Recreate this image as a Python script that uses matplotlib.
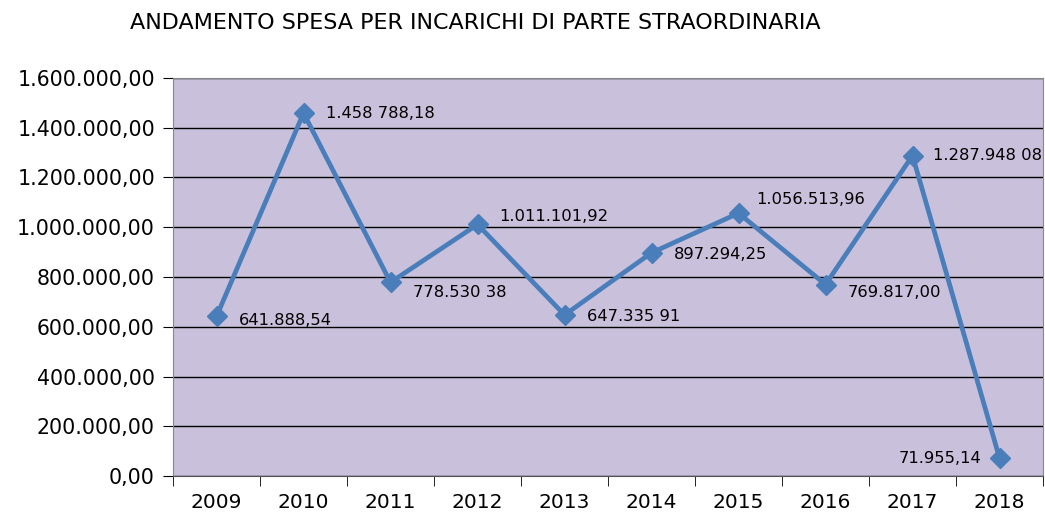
import numpy as np
import matplotlib.pyplot as plt
from matplotlib.ticker import FuncFormatter, FixedLocator

plt.rcParams['font.family'] = ['DejaVu Sans']

anni = ['2009', '2010', '2011', '2012', '2013', '2014', '2015', '2016', '2017', '2018']
spesa = [641888.54, 1458788.18, 778530.38, 1011101.92, 647335.91,
         897294.25, 1056513.96, 769817.00, 1287948.08, 71955.14]
etichette = ['641.888,54', '1.458 788,18', '778.530 38', '1.011.101,92', '647.335 91',
             '897.294,25', '1.056.513,96', '769.817,00', '1.287.948 08', '71.955,14']
# offset (px) of each label from its marker
offsets = [(22, -4), (22, 0), (22, -10), (22, 8), (22, -2),
           (22, -2), (18, 14), (22, -8), (20, 0), (-18, 0)]


def it_fmt(v, pos):
    if v == 0:
        return "0,00"
    s = f"{v:,.2f}"
    return s.replace(",", "X").replace(".", ",").replace("X", ".")


fig = plt.figure(figsize=(10.45, 5.13), dpi=100)
ax = fig.add_axes([0.1656, 0.0721, 0.8325, 0.7759])
ax.set_facecolor('#C9C1DB')

x = np.arange(len(anni))
ax.plot(x, spesa, color='#4A7EBB', lw=3.4, marker='D', ms=10.5, zorder=3)

for xi, yi, lab, (dx, dy) in zip(x, spesa, etichette, offsets):
    ax.annotate(lab, (xi, yi), xytext=(dx, dy), textcoords='offset pixels',
                ha='right' if dx < 0 else 'left', va='center', fontsize=11.8)

ax.set_xlim(-0.5, len(anni) - 0.5)
ax.set_ylim(0, 1600000)
ax.set_yticks(np.arange(0, 1600001, 200000))
ax.yaxis.set_major_formatter(FuncFormatter(it_fmt))
ax.yaxis.grid(True, color='black', lw=1)
ax.set_axisbelow(True)

ax.set_xticks(x)
ax.set_xticklabels(anni, fontsize=14.5)
ax.xaxis.set_minor_locator(FixedLocator(np.arange(-0.5, len(anni), 1.0)))
ax.tick_params(axis='x', which='major', length=0, pad=12)
ax.tick_params(axis='x', which='minor', length=7, color='black', direction='out')
ax.tick_params(axis='y', length=7, labelsize=14.8, pad=6, color='black')

for s in ['top', 'right']:
    ax.spines[s].set_color('#888888')
ax.spines['left'].set_color('#888888')
ax.spines['bottom'].set_color('#555555')

fig.text(0.124, 0.955, 'ANDAMENTO SPESA PER INCARICHI DI PARTE STRAORDINARIA',
         fontsize=16, ha='left', va='center')

fig.savefig('out.png', dpi=100)
